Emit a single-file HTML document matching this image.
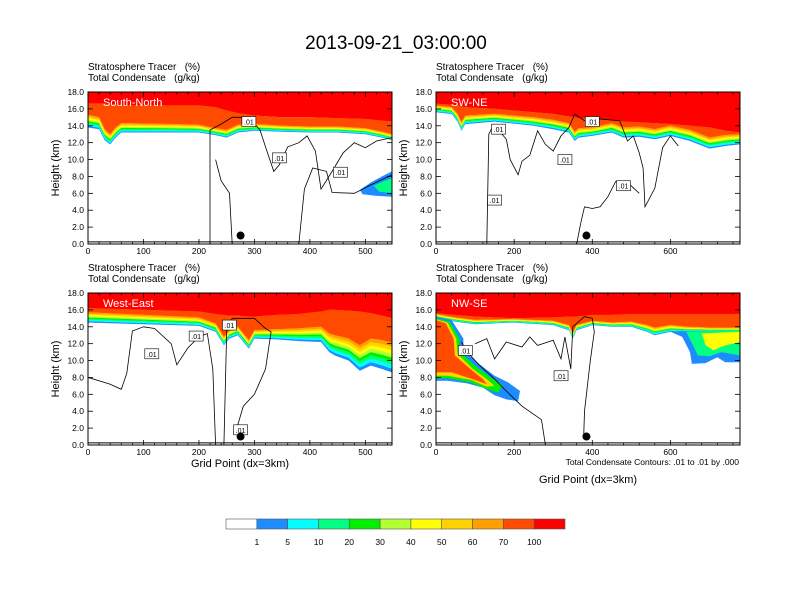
<!DOCTYPE html>
<html><head><meta charset="utf-8">
<style>
html,body{margin:0;padding:0;background:#fff;}
svg{display:block;font-family:"Liberation Sans",sans-serif;}
.pre{white-space:pre;}
</style></head>
<body>
<svg id="fig" width="792" height="612" viewBox="0 0 792 612">
<text x="396" y="49" font-size="19" text-anchor="middle">2013-09-21_03:00:00</text>
<g id="panels"></g>
<g id="colorbar"></g>
<text x="739" y="465" font-size="8.5" text-anchor="end">Total Condensate Contours: .01 to .01 by .000</text>
</svg>
<script>
const NS="http://www.w3.org/2000/svg";
const bandColors=["#1e8cff","#00ffff","#00ff82","#00f000","#b4ff32","#ffff00","#ffd200","#ffa000"];
const orangeRed="#ff4b00", red="#ff0000";
const cbColors=["#ffffff","#1e8cff","#00ffff","#00ff82","#00f000","#b4ff32","#ffff00","#ffd200","#ffa000","#ff4b00","#ff0000"];
const cbLabels=["1","5","10","20","30","40","50","60","70","100"];
const yTicks=[0,2,4,6,8,10,12,14,16,18];

// panel 1 South-North
const p1Xs=[0,20,30,40,50,60,150,200,230,250,270,300,350,400,450,500,530,548];
const p1Base=[13.8,13.6,12.3,11.8,12.6,13.2,13.2,13.2,12.9,12.6,13.2,13.4,13.3,13.2,13.2,13.0,12.6,12.3];
const p1Depth=[1.5,1.4,1.3,1.2,1.2,1.1,1.0,0.9,0.8,0.9,0.9,0.8,0.7,0.7,0.7,0.7,0.7,0.7];
const p1Red=[16.6,16.6,16.6,16.5,16.5,16.4,16.4,16.4,16.2,15.8,15.5,15.2,15.0,15.0,14.9,14.8,14.6,14.5];
// panel 2 SW-NE
const p2Xs=[0,40,55,65,75,150,250,300,340,355,365,400,450,480,520,560,600,650,700,740,778];
const p2Base=[15.6,15.4,14.5,13.4,14.2,14.5,14.0,13.6,13.2,12.2,12.6,12.8,13.2,12.6,12.7,12.4,12.8,12.2,11.3,11.6,11.8];
const p2Depth=[0.8,0.8,0.9,1.0,1.0,0.9,1.0,1.1,1.1,1.1,1.1,1.0,1.1,1.2,1.2,1.2,1.2,1.3,1.3,1.3,1.2];
const p2Red=[16.6,16.5,16.4,16.3,16.2,16.0,15.6,15.4,15.1,15.0,14.9,14.8,14.6,14.5,14.4,14.3,14.2,14.0,13.8,13.4,13.2];
// panel 3 West-East
const p3Xs=[0,100,200,230,245,255,270,290,300,340,380,420,435,445,470,490,510,530,548];
const p3Base=[14.5,14.3,14.1,13.4,11.8,12.6,13.0,11.4,12.6,12.5,12.3,12.2,11.0,10.6,10.0,8.8,9.4,9.0,8.6];
const p3Depth=[1.2,1.1,1.0,1.0,1.0,1.0,1.0,1.0,1.0,1.2,1.5,1.8,2.2,2.4,2.6,3.0,3.2,3.4,3.5];
const p3Red=[16.2,16.0,15.8,15.5,15.4,15.3,15.3,15.2,15.2,15.4,15.5,15.8,16.0,16.0,15.9,15.8,15.6,15.3,15.0];
// panel 4 NW-SE
const p4Xs=[0,50,100,200,300,340,350,360,400,450,500,540,560,600,640,700,778];
const p4Base=[15.0,14.6,14.3,14.5,14.2,13.6,12.6,13.6,14.2,14.0,14.0,13.4,13.0,13.4,13.4,13.4,13.4];
const p4Depth=[0.5,0.5,0.5,0.4,0.5,0.6,0.6,0.6,0.5,0.5,0.6,0.8,0.9,0.8,0.6,0.5,0.5];
const p4Red=[15.6,15.4,15.2,15.0,15.1,15.2,15.2,15.2,15.4,15.4,15.5,15.5,15.5,15.5,15.5,15.5,15.5];

// extra condensate/tracer blobs [x, km]
const p1BlobBlue=[[490,6.4],[510,7.3],[530,8.0],[548,8.6],[548,5.6],[520,5.7],[495,5.9]];
const p1BlobGreen=[[515,6.9],[535,7.5],[548,7.8],[548,6.0],[525,6.2]];
const p4LeftBlue=[[0,15.2],[40,14.8],[70,12.6],[70,11.2],[110,9.6],[150,8.2],[185,7.4],[215,6.4],[210,5.2],[180,5.4],[150,5.9],[120,6.8],[80,7.3],[30,7.6],[0,7.6]];
const p4LeftGreen=[[0,15.0],[35,14.6],[60,12.6],[62,11.0],[100,9.4],[140,8.0],[170,7.1],[160,6.2],[130,6.6],[90,7.4],[30,7.9],[0,7.9]];
const p4LeftYellow=[[0,14.9],[30,14.5],[52,12.6],[55,10.8],[95,9.0],[130,7.8],[150,7.0],[130,6.9],[90,7.7],[30,8.2],[0,8.2]];
const p4LeftOrange=[[0,14.8],[25,14.4],[45,12.6],[48,10.6],[90,8.9],[120,7.8],[130,7.2],[100,7.7],[40,8.6],[0,8.6]];
const p4RightBlue=[[600,13.4],[630,12.8],[650,11.0],[655,9.6],[690,9.7],[720,10.4],[740,9.8],[778,9.8],[778,13.6]];
const p4RightGreen=[[640,13.4],[660,11.6],[670,10.6],[700,10.5],[730,11.0],[778,10.6],[778,13.6]];
const p4RightYellow=[[680,13.2],[690,11.8],[710,11.2],[740,11.8],[778,12.2],[778,13.4]];

// contour lines (.01 g/kg) [x, km]
const p1Contour=[[220,0],[220,13.5],[240,14.2],[260,15],[290,15],[310,13.5],[320,11.5],[335,8.6],[345,9.4],[360,11.5],[380,12.0],[395,12.8],[410,11.0],[420,6.5],[440,8.6],[460,10.8],[480,12.0],[500,11.4],[520,12.2],[548,12.6]];
const p1Contour2=[[260,0],[255,6.0],[240,7.5],[230,10.0]];
const p1Contour3=[[380,0],[390,6.5],[405,9.0],[430,8.6],[440,6.1],[480,6.0],[510,7.0],[548,8.2]];
const p2Contour=[[130,0],[135,13.0],[145,13.9],[160,13.5],[180,12.4],[190,10.0],[210,8.2],[220,9.8],[240,10.5],[260,13.4],[280,11.8],[300,11.0],[320,12.8],[340,13.8],[355,15.4],[380,14.6],[420,14.8],[470,14.6],[490,12.2],[505,12.8],[520,10.8],[530,9.0],[535,4.4],[560,6.6],[580,11.4],[600,12.8],[620,11.6]];
const p2Contour2=[[360,0],[370,2.4],[380,4.4],[400,4.2],[420,4.4],[440,5.6],[460,7.4],[490,7.3],[520,6.0]];
const p3Contour=[[0,8.0],[40,7.2],[60,6.6],[70,8.5],[80,13.5],[100,14.0],[120,13.8],[150,12.0],[160,9.5],[180,11.5],[200,12.8],[215,13.2],[225,9.0],[230,0]];
const p3Contour2=[[245,0],[250,13.5],[260,15],[300,15],[320,13.8],[330,13.4],[320,9.0],[300,6.0],[280,4.6],[270,2.4]];
const p4Contour=[[65,12.2],[80,11.0],[110,9.5],[150,7.8],[180,6.4],[220,4.6],[270,3.0],[280,0]];
const p4Contour2=[[100,12.0],[130,12.6],[150,10.2],[180,12.2],[220,11.6],[240,12.8],[260,11.8],[300,12.4],[320,10.2],[330,12.8],[345,9.0],[350,14.0],[380,15.2],[400,15.0],[405,13.4],[395,10.0],[380,4.0],[378,1.0]];

const dots=[[275,1.0],[385,1.0],[275,1.0],[385,1.0]];

const panels=[
 {name:"south-north",label:"South-North",x0:88,y0:92,xmax:548,xt:[0,100,200,300,400,500],xs:p1Xs,base:p1Base,depth:p1Depth,red:p1Red,
  blobs:[[p1BlobBlue,"#1e8cff"],[p1BlobGreen,"#00ff82"]],contours:[p1Contour,p1Contour2,p1Contour3],labels:[[290,14.5],[345,10.2],[455,8.5]],xtitle:false},
 {name:"sw-ne",label:"SW-NE",x0:436,y0:92,xmax:778,xt:[0,200,400,600],xs:p2Xs,base:p2Base,depth:p2Depth,red:p2Red,
  blobs:[],contours:[p2Contour,p2Contour2],labels:[[160,13.6],[330,10.0],[150,5.2],[400,14.5],[480,6.9]],xtitle:false},
 {name:"west-east",label:"West-East",x0:88,y0:293,xmax:548,xt:[0,100,200,300,400,500],xs:p3Xs,base:p3Base,depth:p3Depth,red:p3Red,
  blobs:[],contours:[p3Contour,p3Contour2],labels:[[115,10.8],[195,12.9],[255,14.2],[275,1.8]],xtitle:true,xty:467},
 {name:"nw-se",label:"NW-SE",x0:436,y0:293,xmax:778,xt:[0,200,400,600],xs:p4Xs,base:p4Base,depth:p4Depth,red:p4Red,
  blobs:[[p4LeftBlue,"#1e8cff"],[p4LeftGreen,"#00f000"],[p4LeftYellow,"#ffd200"],[p4LeftOrange,orangeRed],[p4RightBlue,"#1e8cff"],[p4RightGreen,"#00ff82"],[p4RightYellow,"#ffff00"]],
  contours:[p4Contour,p4Contour2],labels:[[75,11.2],[320,8.2]],xtitle:true,xty:483}
];
const W=304,H=152;
const root=document.getElementById("panels");
function mk(tag,attrs,parent){const e=document.createElementNS(NS,tag);for(const k in attrs)e.setAttribute(k,attrs[k]);parent.appendChild(e);return e;}

panels.forEach((p,pi)=>{
  const g=mk("g",{},root);
  
  
  const sx=v=>p.x0+v/p.xmax*W;
  const sy=v=>p.y0+H-v/18*H;
  let t=mk("text",{x:p.x0,y:p.y0-22,"font-size":"10",class:"pre"},g);t.textContent="Stratosphere Tracer   (%)";
  
  t=mk("text",{x:p.x0,y:p.y0-11,"font-size":"10",class:"pre"},g);t.textContent="Total Condensate   (g/kg)";
  
  const clipId="clip"+pi;
  const cp=mk("clipPath",{id:clipId},g);mk("rect",{x:p.x0,y:p.y0,width:W,height:H},cp);
  const plot=mk("g",{"clip-path":"url(#"+clipId+")"},g);
  function bandPath(lowF,highF){
    let d="";
    p.xs.forEach((x,i)=>{d+=(i?"L":"M")+sx(x).toFixed(1)+","+sy(highF(i)).toFixed(1);});
    for(let i=p.xs.length-1;i>=0;i--)d+="L"+sx(p.xs[i]).toFixed(1)+","+sy(lowF(i)).toFixed(1);
    return d+"Z";
  }
  let e=mk("path",{d:bandPath(i=>p.red[i],i=>18.5),fill:red},plot);
  
  e=mk("path",{d:bandPath(i=>p.base[i]+p.depth[i],i=>p.red[i]+0.02),fill:orangeRed},plot);
  
  bandColors.forEach((c,k)=>{
    const n=bandColors.length;
    const b=mk("path",{d:bandPath(i=>p.base[i]+p.depth[i]*k/n,i=>p.base[i]+p.depth[i]*(k+1)/n+0.02),fill:c},plot);
    
  });
  p.blobs.forEach(([pts,c])=>{
    const b=mk("polygon",{points:pts.map(q=>sx(q[0]).toFixed(1)+","+sy(q[1]).toFixed(1)).join(" "),fill:c},plot);
    
  });
  p.contours.forEach(pts=>{
    const l=mk("polyline",{points:pts.map(q=>sx(q[0]).toFixed(1)+","+sy(q[1]).toFixed(1)).join(" "),fill:"none",stroke:"#000","stroke-width":"0.8"},plot);
    
  });
  e=mk("line",{x1:p.x0,x2:p.x0+W,y1:sy(0.25),y2:sy(0.25),stroke:"#000","stroke-width":"1"},plot);
  
  p.labels.forEach(q=>{
    const lg=mk("g",{},plot);
    
    mk("rect",{x:sx(q[0])-7,y:sy(q[1])-5,width:14,height:10,fill:"#fff",stroke:"#000","stroke-width":"0.6"},lg);
    const tt=mk("text",{x:sx(q[0]),y:sy(q[1])+3,"font-size":"7","text-anchor":"middle"},lg);tt.textContent=".01";
  });
  const d=dots[pi];
  e=mk("circle",{cx:sx(d[0]),cy:sy(d[1]),r:4,fill:"#000"},plot);
  
  t=mk("text",{x:p.x0+15,y:p.y0+14,"font-size":"11",fill:"#fff"},g);t.textContent=p.label;
  
  e=mk("rect",{x:p.x0,y:p.y0,width:W,height:H,fill:"none",stroke:"#000","stroke-width":"1"},g);
  
  yTicks.forEach(v=>{
    mk("line",{x1:p.x0,x2:p.x0+5,y1:sy(v),y2:sy(v),stroke:"#000","stroke-width":"0.8"},g);
    mk("line",{x1:p.x0+W-5,x2:p.x0+W,y1:sy(v),y2:sy(v),stroke:"#000","stroke-width":"0.8"},g);
    const tl=mk("text",{x:p.x0-4,y:sy(v)+3,"font-size":"8.5","text-anchor":"end"},g);tl.textContent=v.toFixed(1);
    
  });
  const step=p.xt[1]-p.xt[0];
  for(let v=0;v<=p.xmax;v+=step/5){
    const major=Math.abs(v/step-Math.round(v/step))<1e-6;
    const L=major?5:2.5;
    mk("line",{x1:sx(v),x2:sx(v),y1:p.y0+H,y2:p.y0+H-L,stroke:"#000","stroke-width":"0.8"},g);
    mk("line",{x1:sx(v),x2:sx(v),y1:p.y0,y2:p.y0+L,stroke:"#000","stroke-width":"0.8"},g);
  }
  p.xt.forEach(v=>{
    const tl=mk("text",{x:sx(v),y:p.y0+H+10,"font-size":"8.5","text-anchor":"middle"},g);tl.textContent=v;
    
  });
  const yt=mk("text",{x:0,y:0,"font-size":"11","text-anchor":"middle",transform:"translate("+(p.x0-29)+","+(p.y0+H/2)+") rotate(-90)"},g);
  yt.textContent="Height (km)";
  
  if(p.xtitle){
    const xt=mk("text",{x:p.x0+W/2,y:p.xty,"font-size":"11","text-anchor":"middle"},g);xt.textContent="Grid Point (dx=3km)";
    
  }
});
const cb=document.getElementById("colorbar");
const cbx=226,cbw=339,cby=519,cbh=10,bw=cbw/cbColors.length;
cbColors.forEach((c,i)=>{
  const r=mk("rect",{x:cbx+i*bw,y:cby,width:bw,height:cbh,fill:c,stroke:"#555","stroke-width":"0.6"},cb);
  
});
cbLabels.forEach((l,i)=>{
  const t=mk("text",{x:cbx+(i+1)*bw,y:545,"font-size":"8.5","text-anchor":"middle"},cb);t.textContent=l;
  
});
</script>
</body></html>
